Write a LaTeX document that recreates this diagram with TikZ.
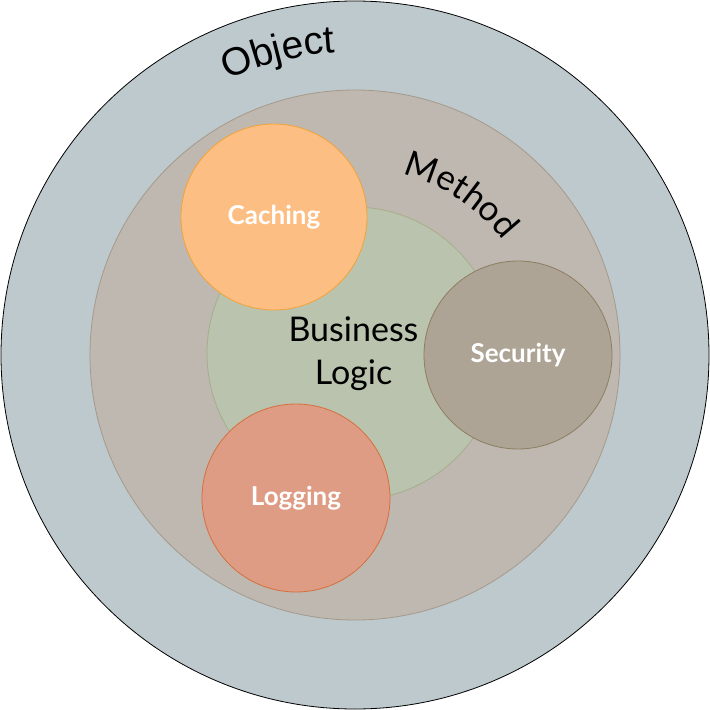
\documentclass[tikz,border=0pt]{standalone}
\usepackage{fontspec}
\setmainfont{Lato}
\newfontfamily\objfamily{Liberation Sans}
\newfontfamily\gillfamily{Lato}
\usetikzlibrary{decorations.text}
\definecolor{objfill}{HTML}{BDC9CD}
\definecolor{methfill}{HTML}{BEB8B1}
\definecolor{methline}{HTML}{A59A8A}
\definecolor{blfill}{HTML}{BAC3AD}
\definecolor{blline}{HTML}{A6AE8C}
\definecolor{cachefill}{HTML}{FDBE84}
\definecolor{cacheline}{HTML}{F2A238}
\definecolor{secfill}{HTML}{ADA496}
\definecolor{secline}{HTML}{8E7E60}
\definecolor{logfill}{HTML}{DE9C84}
\definecolor{logline}{HTML}{D5703C}
\newcommand\objfnt{\objfamily\fontsize{39}{39}\selectfont}
\newcommand\methfnt{\gillfamily\fontsize{35}{35}\selectfont}
\tikzset{
  ring/.style={circle, inner sep=0pt, line width=0.8pt},
  aspect/.style={ring, text=white, font=\gillfamily\bfseries\fontsize{26}{26}\selectfont},
}
\begin{document}
\begin{tikzpicture}[x=1pt,y=1pt]
\useasboundingbox (-355,-355) rectangle (355,355);
\node[ring, draw=black, fill=objfill, minimum size=708pt] (object) at (0,0) {};
\node[ring, draw=methline, fill=methfill, minimum size=530pt] (method) at (0,0) {};
\node[ring, draw=blline, fill=blfill, minimum size=293pt, align=center,
      font=\gillfamily\fontsize{34}{43}\selectfont] (logic) at (-1.5,1.5) {Business\\Logic};
\node[aspect, draw=cacheline, fill=cachefill, minimum size=186pt] (caching) at (-81,138) {Caching};
\node[aspect, draw=secline, fill=secfill, minimum size=188pt] (security) at (163,0) {Security};
\node[aspect, draw=logline, fill=logfill, minimum size=188pt] (logging) at (-59,-143) {Logging};
\path[postaction={decorate}, decoration={text along path, text align=center,
      text={|\objfnt|Object}}] (124.3:303) arc[start angle=124.3, end angle=84.3, radius=303];
\path[postaction={decorate}, decoration={text along path, text align=center,
      text={|\methfnt|Method}}] (88:187) arc[start angle=88, end angle=25, radius=187];
\end{tikzpicture}
\end{document}
